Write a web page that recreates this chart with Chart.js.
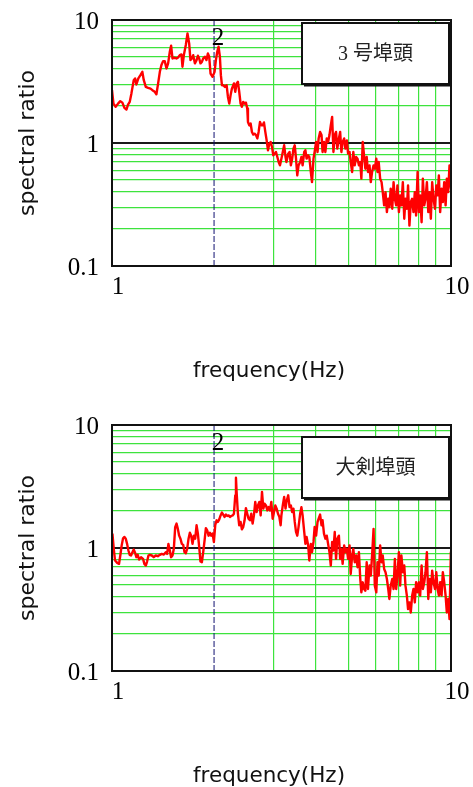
<!DOCTYPE html>
<html>
<head>
<meta charset="utf-8">
<script src="https://cdn.jsdelivr.net/npm/chart.js"></script>
<style>
  body { margin: 0; background: #fff; }
  #c1 { position: absolute; left: 0; top: 0; }
  #c2 { position: absolute; left: 0; top: 405px; }
</style>
</head>
<body>
<canvas id="c1" width="473" height="393"></canvas>
<canvas id="c2" width="473" height="382"></canvas>
<script>
// 3号埠頭
const freq1 = [
  1.00,1.01,1.025,1.042,1.058,1.073,1.088,1.103,1.115,1.128,
  1.141,1.159,1.170,1.180,1.196,1.213,1.229,1.241,1.258,1.278,
  1.299,1.316,1.337,1.352,1.368,1.384,1.399,1.415,1.431,1.448,
  1.464,1.481,1.494,1.508,1.532,1.550,1.567,1.585,1.603,1.614,
  1.629,1.651,1.670,1.689,1.704,1.720,1.736,1.756,1.776,1.792,
  1.808,1.824,1.841,1.858,1.879,1.900,1.918,1.935,1.953,1.980,
  2.007,2.025,2.044,2.062,2.081,2.095,2.110,2.129,2.153,2.178,
  2.198,2.218,2.238,2.258,2.289,2.310,2.331,2.352,2.373,2.395,
  2.416,2.438,2.461,2.483,2.506,2.518,2.541,2.564,2.587,2.611,
  2.634,2.659,2.683,2.707,2.732,2.757,2.782,2.807,2.833,2.859,
  2.885,2.911,2.938,2.965,2.991,3.019,3.046,3.074,3.102,3.130,
  3.16,3.19,3.22,3.25,3.27,3.31,3.34,3.37,3.40,3.43,
  3.46,3.49,3.52,3.55,3.59,3.62,3.65,3.69,3.72,3.75,
  3.79,3.82,3.86,3.89,3.93,3.96,4.00,4.04,4.07,4.11,
  4.15,4.18,4.22,4.26,4.30,4.34,4.38,4.42,4.46,4.50,
  4.54,4.58,4.62,4.67,4.71,4.75,4.79,4.84,4.88,4.93,
  4.97,5.02,5.06,5.11,5.15,5.20,5.25,5.30,5.35,5.40,
  5.44,5.49,5.54,5.59,5.64,5.69,5.75,5.80,5.85,5.91,
  5.96,6.02,6.07,6.12,6.18,6.24,6.29,6.35,6.41,6.47,
  6.53,6.58,6.64,6.71,6.77,6.83,6.89,6.95,7.02,7.08,
  7.14,7.21,7.28,7.34,7.41,7.47,7.54,7.61,7.68,7.75,
  7.82,7.89,7.97,8.04,8.11,8.19,8.26,8.34,8.41,8.49,
  8.57,8.64,8.72,8.80,8.88,8.97,9.05,9.13,9.21,9.29,
  9.38,9.46,9.55,9.64,9.72,9.81,9.90,10.0
]
const ratio1 = [
  2.69,2.09,1.97,2.09,2.19,2.13,1.93,1.87,2.05,2.16,
  2.53,3.24,3.35,2.99,3.35,3.56,3.79,3.24,2.86,2.81,
  2.77,2.69,2.61,2.49,3.05,3.79,4.30,4.63,4.63,4.04,
  4.44,5.52,6.18,4.87,4.93,4.87,4.96,5.18,5.25,4.17,
  5.18,6.26,7.79,6.45,4.72,4.87,5.18,4.44,4.72,5.12,
  4.87,4.44,4.57,4.87,5.03,4.72,5.35,5.03,3.67,3.45,
  3.79,4.72,5.52,6.06,5.03,3.56,2.95,2.95,2.86,2.95,
  2.37,2.09,2.45,2.77,3.05,2.61,3.05,3.14,2.61,2.09,
  1.97,2.16,2.09,2.13,1.91,1.48,1.39,1.44,1.23,1.17,
  1.19,1.16,1.09,1.23,1.48,1.39,1.39,1.47,1.23,1.05,
  0.872,0.988,1.02,0.928,0.794,0.819,0.845,0.770,0.700,0.658,
  0.746,0.845,0.958,0.770,0.700,0.819,0.845,0.658,0.746,0.900,
  0.958,0.746,0.545,0.658,0.700,0.770,0.658,0.845,0.872,0.746,
  0.794,0.770,0.581,0.481,0.746,0.845,1.02,0.845,1.09,1.23,
  1.16,0.845,1.02,0.845,1.09,1.02,1.16,1.39,1.63,0.845,
  1.16,1.23,0.900,1.09,1.23,0.845,1.02,1.09,0.900,1.05,
  0.819,0.845,0.700,0.581,0.845,0.658,0.770,0.746,0.658,0.700,
  0.513,1.02,0.794,0.618,0.770,0.581,0.658,0.481,0.581,0.658,
  0.618,0.746,0.581,0.700,0.513,0.481,0.399,0.311,0.399,0.274,
  0.352,0.301,0.425,0.292,0.481,0.352,0.311,0.452,0.274,0.375,
  0.311,0.481,0.242,0.352,0.292,0.452,0.213,0.331,0.352,0.274,
  0.399,0.257,0.581,0.274,0.375,0.227,0.513,0.311,0.352,0.481,
  0.274,0.399,0.242,0.481,0.352,0.292,0.452,0.375,0.545,0.274,
  0.425,0.331,0.481,0.311,0.513,0.399,0.658,0.425
]

// 大剣埠頭
const freq2 = [
  1.003,1.012,1.021,1.036,1.049,1.058,1.068,1.078,1.088,1.098,
  1.108,1.118,1.128,1.138,1.149,1.159,1.170,1.180,1.191,1.202,
  1.218,1.235,1.246,1.258,1.269,1.281,1.292,1.310,1.328,1.346,
  1.365,1.384,1.402,1.422,1.441,1.454,1.467,1.481,1.494,1.508,
  1.522,1.536,1.550,1.564,1.578,1.592,1.607,1.622,1.636,1.651,
  1.666,1.682,1.697,1.712,1.728,1.744,1.760,1.776,1.792,1.808,
  1.824,1.841,1.858,1.875,1.892,1.909,1.927,1.945,1.962,1.980,
  1.998,2.016,2.035,2.053,2.072,2.091,2.110,2.129,2.148,2.168,
  2.188,2.208,2.228,2.248,2.269,2.289,2.310,2.321,2.331,2.352,
  2.373,2.395,2.416,2.438,2.461,2.483,2.506,2.528,2.552,2.575,
  2.599,2.622,2.646,2.671,2.695,2.720,2.745,2.770,2.795,2.820,
  2.846,2.872,2.897,2.924,2.951,2.978,3.005,3.032,3.060,3.088,
  3.116,3.144,
  3.16,3.19,3.22,3.25,3.27,3.31,3.34,3.37,3.40,3.43,
  3.46,3.49,3.52,3.55,3.59,3.62,3.65,3.69,3.72,3.75,
  3.79,3.82,3.86,3.89,3.93,3.96,4.00,4.04,4.07,4.11,
  4.15,4.18,4.22,4.26,4.30,4.34,4.38,4.42,4.46,4.50,
  4.54,4.58,4.62,4.67,4.71,4.75,4.79,4.84,4.88,4.93,
  4.97,5.02,5.06,5.11,5.15,5.20,5.25,5.30,5.35,5.40,
  5.44,5.49,5.54,5.59,5.64,5.69,5.75,5.80,5.85,5.91,
  5.96,6.02,6.07,6.12,6.18,6.24,6.29,6.35,6.41,6.47,
  6.53,6.58,6.64,6.71,6.77,6.83,6.89,6.95,7.02,7.08,
  7.14,7.21,7.28,7.34,7.41,7.47,7.54,7.61,7.68,7.75,
  7.82,7.89,7.97,8.04,8.11,8.19,8.26,8.34,8.41,8.49,
  8.57,8.64,8.72,8.80,8.88,8.97,9.05,9.13,9.21,9.29,
  9.38,9.46,9.55,9.64,9.72,9.81,9.90,9.99,10.0
]
const ratio2 = [
  1.31,0.984,0.791,0.757,0.743,0.869,1.05,1.20,1.23,1.19,
  1.08,0.954,0.880,0.869,0.925,0.972,0.913,0.842,0.880,0.806,
  0.842,0.816,0.743,0.720,0.776,0.869,0.880,0.869,0.842,0.869,
  0.858,0.880,0.896,0.885,0.925,0.896,1.08,0.954,0.842,0.869,
  0.984,1.48,1.58,1.43,1.26,1.19,1.08,1.06,0.925,0.907,
  0.984,1.19,1.33,1.26,1.08,1.26,1.19,1.53,1.31,1.02,
  0.776,0.766,0.925,1.15,1.45,1.39,1.26,1.33,1.26,1.31,
  1.12,1.53,1.68,1.63,1.71,1.84,1.94,1.87,1.79,1.87,
  1.82,1.84,1.79,1.82,1.84,1.90,2.68,3.72,2.86,1.90,
  1.53,1.63,1.42,1.48,1.68,2.11,1.90,1.73,1.68,1.90,
  1.58,1.84,2.37,1.96,2.22,2.37,1.84,2.86,2.09,2.29,
  2.22,2.02,2.15,2.02,2.37,1.73,1.96,2.22,2.09,1.90,
  1.79,1.53,
  1.84,2.22,2.60,2.09,2.37,2.68,2.15,2.22,1.96,2.09,
  1.63,1.35,1.26,1.48,1.90,2.15,1.84,1.35,1.08,1.23,
  1.05,0.791,1.08,0.925,1.12,1.48,1.26,1.63,1.73,1.87,
  1.53,1.68,1.31,1.19,1.26,1.08,0.925,0.720,1.12,0.954,
  1.35,0.816,1.19,1.26,0.816,0.984,0.743,1.05,0.925,0.984,
  0.816,1.05,0.615,0.869,0.984,0.766,0.869,0.698,0.925,0.560,
  0.436,0.526,0.464,0.450,0.766,0.464,0.720,0.596,0.869,1.43,
  0.494,0.436,0.766,0.596,1.05,0.766,0.869,0.676,0.635,0.560,
  0.464,0.385,0.494,0.560,0.464,0.816,0.464,0.596,0.925,0.494,
  0.869,0.635,0.720,0.494,0.410,0.319,0.361,0.299,0.410,0.464,
  0.361,0.526,0.436,0.526,0.410,0.720,0.464,0.526,0.635,0.925,
  0.385,0.560,0.436,0.655,0.526,0.464,0.635,0.464,0.410,0.526,
  0.410,0.635,0.526,0.410,0.299,0.385,0.264,0.925,0.339
]

const xTicks = [1,2,3,4,5,6,7,8,9,10]
const yTicks = [0.1,0.2,0.3,0.4,0.5,0.6,0.7,0.8,0.9,1,2,3,4,5,6,7,8,9,10]
const xLabels = [1,10]
const yLabels = [0.1,1,10]
const markFreq = 2

const GREEN = '#3de33d'

function isIn(list, v) {
    return list.some(t => Math.abs(t - v) < 1e-9)
}

// legend box, "2" mark, frame and axis titles
const framePlugin = {
    id: 'frame',
    afterDatasetsDraw(chart, args, opt) {
        let ctx = chart.ctx
        let a = chart.chartArea
        let bx = a.right - 149, by = a.top + opt.boxTop, bw = 147, bh = 61
        ctx.save()
        ctx.fillStyle = '#fff'
        ctx.fillRect(bx, by, bw, bh)
        ctx.strokeStyle = '#111'
        ctx.lineWidth = 2
        ctx.strokeRect(bx, by, bw, bh)
        ctx.beginPath()
        ctx.moveTo(bx + bw + 1.5, by + 2)
        ctx.lineTo(bx + bw + 1.5, by + bh + 1.5)
        ctx.lineTo(bx + 2, by + bh + 1.5)
        ctx.stroke()
        ctx.fillStyle = '#222'
        ctx.font = '20px "Liberation Serif", "Noto Sans CJK JP"'
        ctx.textAlign = 'center'
        ctx.textBaseline = 'middle'
        ctx.fillText(opt.name, bx + bw / 2, by + bh / 2 + 1)

        ctx.fillStyle = '#000'
        ctx.font = '25px "Liberation Serif"'
        ctx.textBaseline = 'alphabetic'
        ctx.fillText(String(markFreq), chart.scales.x.getPixelForValue(markFreq) + 4, a.top + 25)

        ctx.strokeStyle = '#111'
        ctx.lineWidth = 2
        ctx.strokeRect(a.left, a.top, a.right - a.left, a.bottom - a.top)

        ctx.fillStyle = '#111'
        ctx.font = '21.5px "DejaVu Sans"'
        ctx.textBaseline = 'middle'
        ctx.fillText('frequency(Hz)', 269, a.bottom + 105)
        ctx.font = '22px "DejaVu Sans"'
        ctx.translate(28, (a.top + a.bottom) / 2)
        ctx.rotate(-Math.PI / 2)
        ctx.fillText('spectral ratio', 0, 0)
        ctx.restore()
    }
}

function makeChart(id, freq, ratio, name, boxTop) {
    let pts = freq.map((f, i) => ({x: f, y: ratio[i]}))
    return new Chart(document.getElementById(id), {
        type: 'line',
        data: {
            datasets: [
                {
                    data: pts,
                    borderColor: '#ff0000',
                    borderWidth: 2.4,
                    borderJoinStyle: 'round',
                    pointRadius: 0,
                    tension: 0,
                    order: 0
                },
                {
                    data: [{x: markFreq, y: yTicks[0]}, {x: markFreq, y: yTicks[yTicks.length - 1]}],
                    borderColor: '#101070',
                    borderWidth: 1,
                    borderDash: [6, 2],
                    pointRadius: 0,
                    order: 1
                }
            ]
        },
        options: {
            responsive: false,
            animation: false,
            layout: {padding: {top: 20, right: 22, left: 0, bottom: 0}},
            plugins: {
                legend: {display: false},
                tooltip: {enabled: false},
                frame: {name: name, boxTop: boxTop}
            },
            scales: {
                x: {
                    type: 'logarithmic',
                    min: 1,
                    max: 10,
                    afterBuildTicks: s => { s.ticks = xTicks.map(v => ({value: v})) },
                    afterFit: s => {
                        s.height = s.chart.height - 20 - 246
                        s.paddingLeft = 0
                        s.paddingRight = 0
                    },
                    ticks: {
                        autoSkip: false,
                        maxRotation: 0,
                        labelOffset: 6,
                        padding: 6,
                        color: '#000',
                        font: {family: 'Liberation Serif', size: 25},
                        callback: v => isIn(xLabels, v) ? String(v) : ''
                    },
                    grid: {
                        drawTicks: false,
                        lineWidth: 1.2,
                        color: c => (isIn(xLabels, c.tick.value) || c.tick.value === markFreq) ? 'rgba(0,0,0,0)' : GREEN
                    },
                    border: {display: false}
                },
                y: {
                    type: 'logarithmic',
                    min: 0.1,
                    max: 10,
                    afterBuildTicks: s => { s.ticks = yTicks.map(v => ({value: v})) },
                    afterFit: s => {
                        s.width = 112
                        s.paddingTop = 0
                        s.paddingBottom = 0
                    },
                    ticks: {
                        autoSkip: false,
                        labelOffset: 2,
                        padding: 13,
                        color: '#000',
                        font: {family: 'Liberation Serif', size: 25},
                        callback: v => isIn(yLabels, v) ? String(v) : ''
                    },
                    grid: {
                        drawTicks: false,
                        lineWidth: c => c.tick.value === 1 ? 2 : 1.2,
                        color: c => {
                            if (c.tick.value === 1) return '#1a1a1a'
                            if (isIn(yLabels, c.tick.value)) return 'rgba(0,0,0,0)'
                            return GREEN
                        }
                    },
                    border: {display: false}
                }
            }
        },
        plugins: [framePlugin]
    })
}

makeChart('c1', freq1, ratio1, '3 号埠頭', 3)
makeChart('c2', freq2, ratio2, '大剣埠頭', 12)
</script>
</body>
</html>
